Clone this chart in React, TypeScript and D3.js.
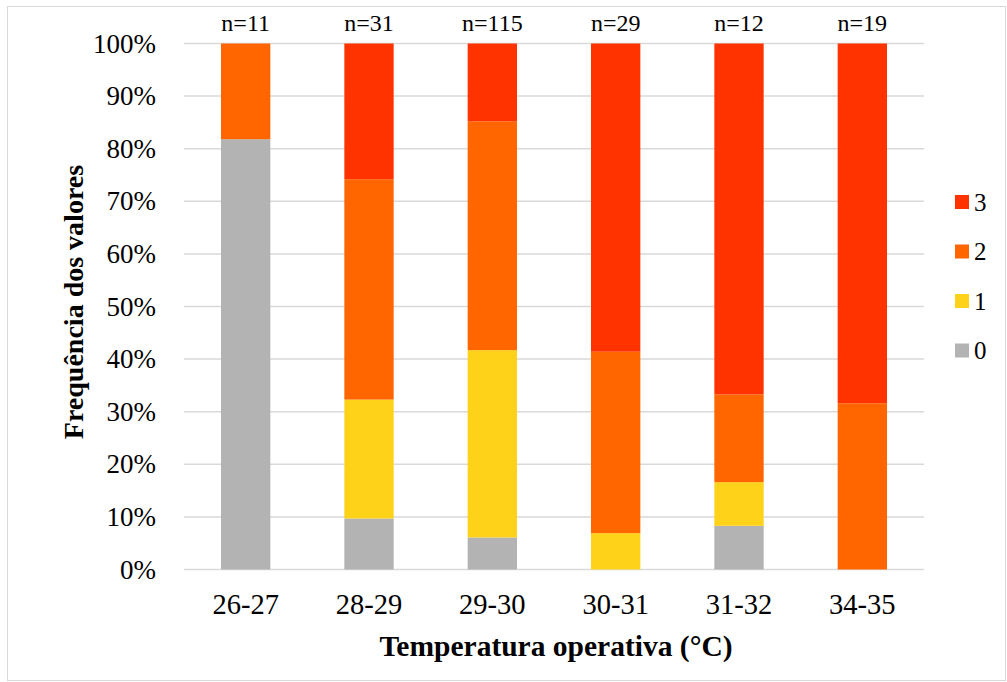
import React from "react";
import * as d3 from "d3";

// Temperature bands and sample size per band
const categories = ["26-27", "28-29", "29-30", "30-31", "31-32", "34-35"];
const sampleSizes = [11, 31, 115, 29, 12, 19];

// Share of votes (%) per scale value within each band
const share0 = [81.8, 9.7, 6.1, 0, 8.3, 0];
const share1 = [0, 22.6, 35.6, 6.9, 8.3, 0];
const share2 = [18.2, 41.9, 43.5, 34.5, 16.7, 31.6];
const share3 = [0, 25.8, 14.8, 58.6, 66.7, 68.4];

const seriesKeys = ["0", "1", "2", "3"];
const seriesColors = ["#B3B3B3", "#FFD21A", "#FF6600", "#FF3300"];
const yTicks = [0, 10, 20, 30, 40, 50, 60, 70, 80, 90, 100];

const W = 1007;
const H = 682;
const margin = { left: 184, right: 83, top: 43.5, bottom: 112.5 };
const FONT = "Liberation Serif, Times New Roman, serif";
const textStyle = { fontFamily: FONT };

export default function App() {
  const rows = categories.map((c, i) => ({
    cat: c,
    "0": share0[i],
    "1": share1[i],
    "2": share2[i],
    "3": share3[i],
  }));
  const stack = d3.stack<any>().keys(seriesKeys)(rows);

  const x = d3
    .scaleBand()
    .domain(categories)
    .range([margin.left, W - margin.right])
    .paddingInner(0.6)
    .paddingOuter(0.3);
  const y = d3
    .scaleLinear()
    .domain([0, 100])
    .range([H - margin.bottom, margin.top]);

  const legendOrder = [3, 2, 1, 0];

  return (
    <svg
      width={W}
      height={H}
      style={{ position: "absolute", left: 0, top: 0, background: "#fff" }}
    >
      <rect x={7.5} y={6.5} width={W - 9} height={H - 8} fill="#fff" stroke="#D9D9D9" strokeWidth={1} />
      {yTicks.map((t) => (
        <g key={t}>
          <line
            x1={margin.left}
            x2={W - margin.right}
            y1={y(t)}
            y2={y(t)}
            stroke="#D9D9D9"
            strokeWidth={1.5}
          />
          <text x={156} y={y(t)} dy="0.34em" textAnchor="end" fontSize={27} fill="#000" style={textStyle}>
            {t}%
          </text>
        </g>
      ))}
      {stack.map((s, si) => (
        <g key={s.key} fill={seriesColors[si]}>
          {s.map((d, i) =>
            d[1] - d[0] > 0 ? (
              <rect
                key={i}
                x={x(categories[i])}
                width={x.bandwidth()}
                y={y(d[1])}
                height={y(d[0]) - y(d[1])}
              />
            ) : null
          )}
        </g>
      ))}
      {categories.map((c, i) => (
        <g key={c}>
          <text
            x={(x(c) as number) + x.bandwidth() / 2}
            y={614}
            textAnchor="middle"
            fontSize={28.5}
            fill="#000"
            style={textStyle}
          >
            {c}
          </text>
          <text
            x={(x(c) as number) + x.bandwidth() / 2}
            y={31}
            textAnchor="middle"
            fontSize={24}
            fill="#000"
            style={textStyle}
          >
            n={sampleSizes[i]}
          </text>
        </g>
      ))}
      <text x={556} y={656} textAnchor="middle" fontSize={29.5} fontWeight="bold" fill="#000" style={textStyle}>
        Temperatura operativa (°C)
      </text>
      <text
        transform={`translate(83, ${302}) rotate(-90)`}
        textAnchor="middle"
        fontSize={28}
        fontWeight="bold"
        fill="#000"
        style={textStyle}
      >
        Frequência dos valores
      </text>
      {legendOrder.map((si, k) => (
        <g key={si} transform={`translate(955, ${202 + k * 49.5})`}>
          <rect x={0} y={-7} width={14} height={14} fill={seriesColors[si]} />
          <text x={19} y={0} dy="0.34em" fontSize={25} fill="#000" style={textStyle}>
            {seriesKeys[si]}
          </text>
        </g>
      ))}
    </svg>
  );
}
